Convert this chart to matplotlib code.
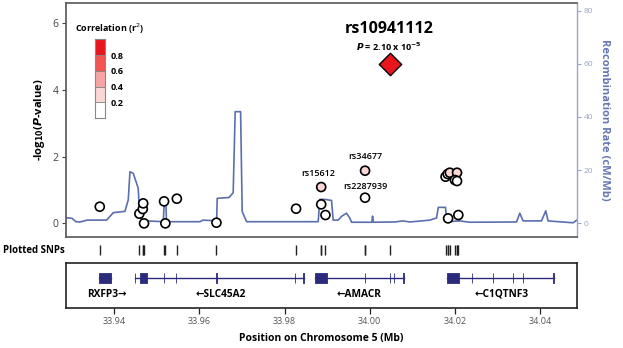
import matplotlib
matplotlib.use('Agg')
import matplotlib.pyplot as plt
from matplotlib.patches import Rectangle

plt.rcParams['font.family'] = ['Open Sans', 'DejaVu Sans']

# ---------------- data ----------------
snp_pos = [33.9366, 33.9459, 33.9467, 33.9468, 33.9470, 33.9517, 33.9520, 33.9547,
           33.9640, 33.9827, 33.9886, 33.9886, 33.9896, 33.9989, 33.9989,
           34.0178, 34.0183, 34.0188, 34.0205, 34.0200, 34.0205, 34.0184, 34.0208]
snp_logp = [0.50, 0.29, 0.43, 0.60, 0.00, 0.66, 0.00, 0.74,
            0.02, 0.44, 1.09, 0.57, 0.25, 1.58, 0.77,
            1.40, 1.48, 1.52, 1.52, 1.30, 1.27, 0.15, 0.25]
snp_r2 = [0.1, 0.1, 0.1, 0.1, 0.1, 0.1, 0.1, 0.1,
          0.1, 0.1, 0.3, 0.1, 0.1, 0.3, 0.1,
          0.1, 0.1, 0.3, 0.3, 0.1, 0.1, 0.1, 0.1]

lead_name = "rs10941112"
lead_pos = 34.0047
lead_logp = 4.77

label_names = ["rs15612", "rs34677", "rs2287939"]
label_pos = [33.9886, 33.9989, 33.9989]
label_logp = [1.09, 1.58, 0.77]

recomb_pos = [33.92859, 33.93007, 33.93101, 33.93195, 33.93366, 33.93822, 33.93977, 33.94251,
              33.94329, 33.94369, 33.94446, 33.94563, 33.94587, 33.94638, 33.94761, 33.95150,
              33.95178, 33.95214, 33.95225, 33.96012, 33.96082, 33.96324, 33.96404, 33.96418,
              33.96693, 33.96793, 33.96840, 33.96967, 33.97005, 33.97108, 33.98789, 33.98829,
              33.98946, 33.99103, 33.99141, 33.99258, 33.99345, 33.99455, 33.99533, 33.99573,
              34.00049, 34.00066, 34.00085, 34.00589, 34.00777, 34.00941, 34.01411, 34.01568,
              34.01610, 34.01779, 34.01810, 34.02115, 34.02350, 34.03446, 34.03524, 34.03601,
              34.04033, 34.04134, 34.04188, 34.04775, 34.04855]
recomb_rate = [2.1, 1.9, 0.6, 0.5, 1.2, 1.2, 4.0, 4.5,
               8.8, 19.4, 18.8, 13.2, 6.2, 1.6, 0.9, 0.6,
               8.3, 8.3, 0.6, 0.6, 1.2, 1.0, 0.5, 9.4,
               9.7, 11.5, 42.0, 42.0, 4.4, 0.6, 0.6, 9.0,
               9.0, 8.6, 1.2, 1.2, 2.7, 3.8, 1.9, 0.4,
               0.4, 2.7, 0.4, 0.5, 0.9, 0.5, 1.2, 2.0,
               6.0, 6.0, 0.6, 0.9, 0.4, 0.5, 3.8, 0.9,
               0.9, 4.7, 0.9, 0.2, 1.1]

gene_names = ["RXFP3", "SLC45A2", "AMACR", "C1QTNF3"]
gene_strand = ["+", "-", "-", "-"]
gene_start = [33.93648, 33.94480, 33.98711, 34.01803]
gene_end = [33.93915, 33.98462, 34.00806, 34.04328]
gene_exons = [
    [(33.93648, 33.93915)],
    [(33.94480, 33.94495), (33.94603, 33.94761), (33.95168, 33.95180), (33.95442, 33.95454),
     (33.96398, 33.96410), (33.98236, 33.98248), (33.98442, 33.98462)],
    [(33.98711, 33.98986), (33.99886, 33.99898), (34.00473, 34.00485), (34.00567, 34.00579),
     (34.00790, 34.00806)],
    [(34.01803, 34.02099), (34.02398, 34.02410), (34.02891, 34.02903), (34.03353, 34.03365),
     (34.03588, 34.03600), (34.04312, 34.04328)],
]
gene_label_x = [33.9383, 33.9649, 33.99744, 34.0310]

x_ticks = [33.94, 33.96, 33.98, 34.00, 34.02, 34.04]
left_ticks = [0, 2, 4, 6]
right_ticks = [0, 20, 40, 60, 80]
r2_bounds = [0.0, 0.2, 0.4, 0.6, 0.8, 1.0]
r2_colors = ['#ffffff', '#fbd6d6', '#f7a3a3', '#f25353', '#e8161c']
r2_labels = [0.2, 0.4, 0.6, 0.8]

# ---------------- styling ----------------
W, H = 623, 348
XLIM = (33.9286, 34.0486)
BLUE = '#5b6fae'
NAVY = '#2b2b7e'
FRAME = '#555555'

def r2_color(v):
    for i in range(len(r2_colors)):
        if v < r2_bounds[i + 1] or i == len(r2_colors) - 1:
            return r2_colors[i]

def fx(px):
    return px / W

def fy(py):
    return 1 - py / H

fig = plt.figure(figsize=(W / 100, H / 100), dpi=100)

# main axes
ax = fig.add_axes([fx(65.7), fy(236.7), fx(576.7 - 65.7), (236.7 - 2.7) / H])
ax2 = ax.twinx()
ax.set_zorder(ax2.get_zorder() + 1)
ax.patch.set_visible(False)

ax2.plot(recomb_pos, recomb_rate, color=BLUE, lw=1.2, zorder=1)
ax2.set_ylim(-5.04, 83.0)
ax2.set_yticks(right_ticks)
ax2.tick_params(axis='y', colors='#9aa6c6', labelsize=6, length=3, width=0.8, pad=2)
ax2.set_ylabel('Recombination Rate (cM/Mb)', color='#6677b3', fontsize=8, fontweight='bold',
               rotation=270, labelpad=12)

ax.set_xlim(*XLIM)
ax.set_ylim(-0.40, 6.62)
ax.set_yticks(left_ticks)
ax.set_xticks([])
ax.tick_params(axis='y', colors='#444444', labelsize=7.5, length=3, width=0.8, pad=2)
ax.set_ylabel(r'-log$_{\mathbf{10}}$($\boldsymbol{P}$-value)', fontsize=8, fontweight='bold', labelpad=4)
for s in ['top', 'left', 'bottom']:
    ax.spines[s].set_color(FRAME)
    ax.spines[s].set_linewidth(1.2)
ax.spines['right'].set_visible(False)
for s in ['top', 'left', 'bottom']:
    ax2.spines[s].set_visible(False)
ax2.spines['right'].set_color('#9aa6c6')
ax2.spines['right'].set_linewidth(1.0)

ax.scatter(snp_pos, snp_logp, s=42, c=[r2_color(v) for v in snp_r2],
           edgecolors='black', linewidths=1.2, zorder=3)
ax.scatter([lead_pos], [lead_logp], s=130, marker='D', c=r2_colors[-1],
           edgecolors='black', linewidths=1.0, zorder=4)

ax.text(lead_pos - 0.0001, lead_logp + 1.07, lead_name, ha='center', va='center',
        fontsize=11.5, fontweight='bold')
ax.text(lead_pos - 0.0001, lead_logp + 0.52, r'$\boldsymbol{P}$ = 2.10 x 10$^{\mathbf{-5}}$',
        ha='center', va='center', fontsize=6.5, fontweight='bold')

label_offsets = [0.42, 0.42, 0.33]
for n, p, v, o in zip(label_names, label_pos, label_logp, label_offsets):
    ax.text(p - 0.0008 if n == 'rs15612' else p, v + o, n, ha='center', va='center',
            fontsize=6.5, fontweight='semibold')

# r2 legend (colour key)
fig.text(fx(75), fy(28.3), 'Correlation (r$^{2}$)', ha='left', va='center',
         fontsize=6.5, fontweight='bold')
cax = fig.add_axes([fx(95), fy(118.3), fx(10.3), 79 / H])
for i, col in enumerate(r2_colors):
    cax.add_patch(Rectangle((0, r2_bounds[i]), 1, r2_bounds[i + 1] - r2_bounds[i],
                            facecolor=col, edgecolor='#888888', lw=0.6))
cax.set_xlim(0, 1)
cax.set_ylim(0, 1)
cax.set_xticks([])
cax.yaxis.tick_right()
cax.set_yticks(r2_labels)
cax.set_yticklabels([f'{v:.1f}' for v in r2_labels], fontsize=6.5, fontweight='bold')
cax.tick_params(axis='y', length=0, pad=4)
for s in cax.spines.values():
    s.set_color('#888888')
    s.set_linewidth(0.8)

# plotted SNPs track
sax = fig.add_axes([fx(65.7), fy(260), fx(576.7 - 65.7), 20 / H])
sax.set_xlim(*XLIM)
sax.set_ylim(0, 1)
sax.vlines(snp_pos + [lead_pos], 0.25, 0.75, color='#222222', lw=1.0)
sax.axis('off')
fig.text(fx(3), fy(250.5), 'Plotted SNPs', ha='left', va='center', fontsize=7, fontweight='bold')

# gene track
gax = fig.add_axes([fx(65.7), fy(307.7), fx(576.7 - 65.7), 44.4 / H])
gax.set_xlim(*XLIM)
gax.set_ylim(0, 1)
line_y = 0.662
for name, st, en, strand, exons, lx in zip(gene_names, gene_start, gene_end, gene_strand,
                                           gene_exons, gene_label_x):
    gax.plot([st, en], [line_y, line_y], color=NAVY, lw=1.0)
    gax.broken_barh([(a, b - a) for a, b in exons], (0.55, 0.225),
                    facecolors=NAVY, edgecolors=NAVY, linewidth=0.6)
    lab = f'{name}\u2192' if strand == '+' else f'\u2190{name}'
    gax.text(lx, 0.30, lab, ha='center', va='center', fontsize=7.3, fontweight='bold')
gax.set_yticks([])
gax.set_xticks(x_ticks)
gax.set_xticklabels([f'{t:.2f}' for t in x_ticks])
gax.tick_params(axis='x', direction='out', length=4, width=0.9, colors='#222222',
                labelcolor='#555555', labelsize=6.5, pad=3)
for s in gax.spines.values():
    s.set_color('#222222')
    s.set_linewidth(1.2)
gax.set_xlabel('Position on Chromosome 5 (Mb)', fontsize=7.5, fontweight='bold', labelpad=5)

fig.savefig('out.png', dpi=100)
